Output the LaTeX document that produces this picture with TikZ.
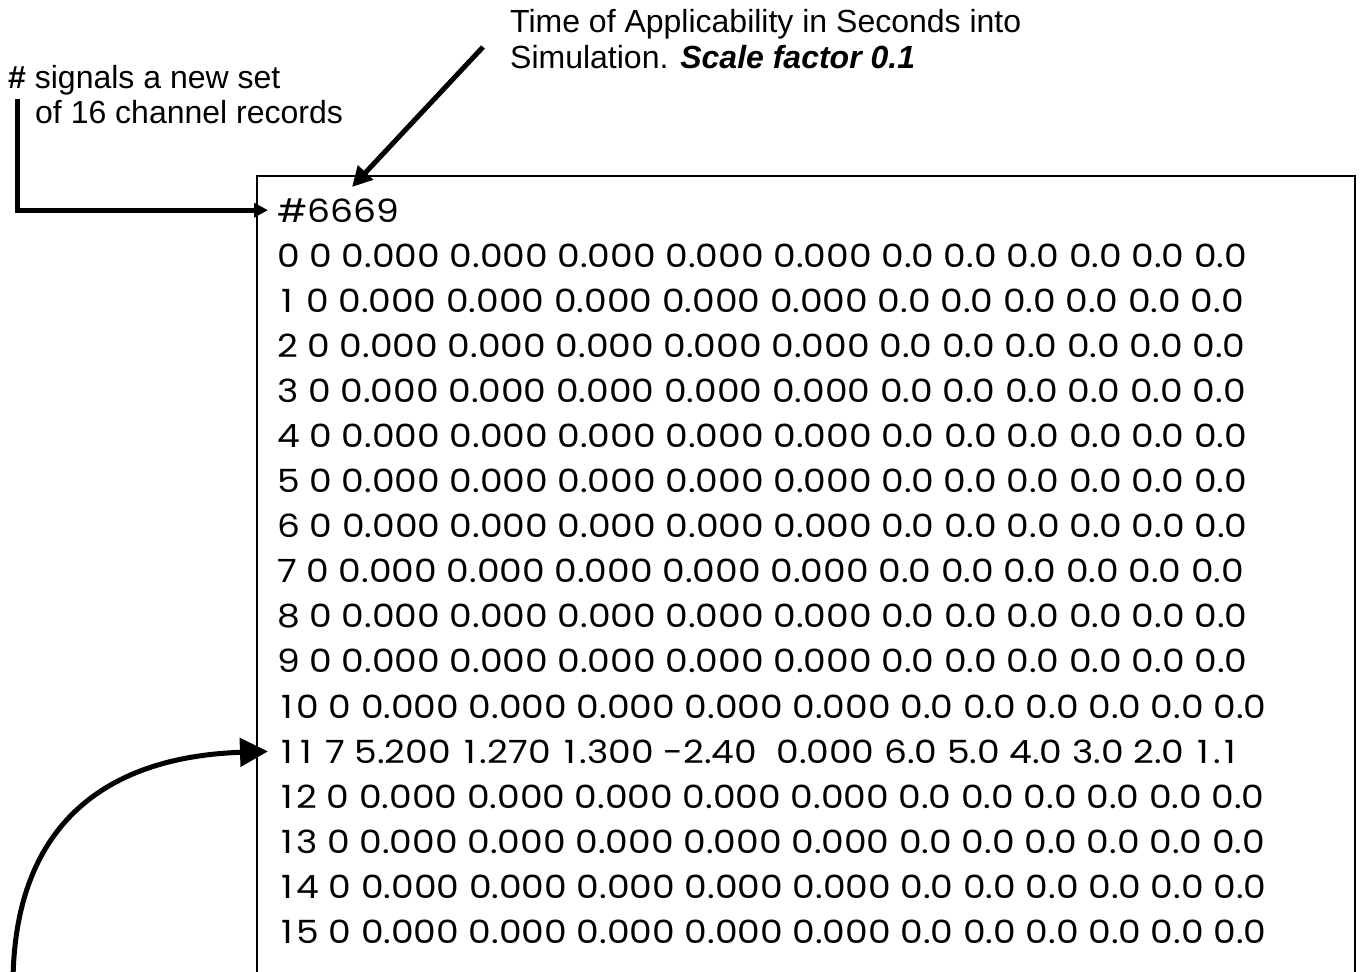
\documentclass[tikz,border=0pt]{standalone}
\usepackage{fontspec}
\setmainfont{Liberation Sans}
\newfontfamily\datafont[Numbers=Monospaced]{Poppins}
\usetikzlibrary{arrows.meta}
\newlength\rowwd
\newlength\onewd
\newcommand\one{\makebox[\onewd][c]{1}}
\begin{document}
% common horizontal stretch of the record lines, and a wider digit one
\settowidth\rowwd{\datafont\fontsize{32}{34}\selectfont 0 0 0.000 0.000 0.000 0.000 0.000 0.0 0.0 0.0 0.0 0.0 0.0}%
\settowidth\onewd{\datafont\fontsize{32}{34}\selectfont 0}%
\setlength\onewd{0.85\onewd}%
\pgfmathsetmacro\sx{970/\rowwd}%
\begin{tikzpicture}[x=1pt,y=-1pt,
  datarow/.style={anchor=base west, inner sep=0pt, font=\datafont\fontsize{32}{34}\selectfont},
  note/.style={anchor=base west, inner sep=0pt, font=\fontsize{32}{34}\selectfont},
  title/.style={anchor=base west, inner sep=0pt, font=\fontsize{32}{36}\selectfont},
  frame/.style={draw, line width=2pt, inner sep=0pt},
  pointer/.style={line width=5pt},
]
\clip (0,0) rectangle (1361,972);
\fill[white] (0,0) rectangle (1361,972);

% record frame (runs past the lower edge)
\node[frame, anchor=north west, minimum width=1098pt, minimum height=840pt] (box) at (256,175) {};

% header and channel records
\node[datarow] (hdr) at (277,222) {\scalebox{\sx}[1]{\#6669}};
\foreach \i/\lab in {0/0, 1/\one, 2/2, 3/3, 4/4, 5/5, 6/6, 7/7, 8/8, 9/9,
                     10/\one0, 12/\one2, 13/\one3, 14/\one4, 15/\one5}{
  \node[datarow] (r\i) at (277,{267+45.1*\i})
    {\scalebox{\sx}[1]{\lab{} 0 0.000 0.000 0.000 0.000 0.000 0.0 0.0 0.0 0.0 0.0 0.0}};
}
\node[datarow] (r11) at (277,{267+45.1*11})
  {\scalebox{\sx}[1]{\one\one{} 7 5.200 \one.270 \one.300 -2.40~ 0.000 6.0 5.0 4.0 3.0 2.0 \one.\one}};

% annotations
\node[note] (n1) at (8,88) {\textbf{\#} signals a new set};
\node[note] (n2) at (35,123) {of 16 channel records};
\node[title] (t1) at (510,32) {Time of Applicability in Seconds into};
\node[title] (t2) at (510,68) {Simulation. \textbf{\textit{Scale factor 0.1}}};

% pointers
\coordinate (a1s) at (17,99);
\draw[pointer, -{Triangle[length=14pt,width=14pt]}] (a1s) |- ([xshift=-9pt]hdr.west);

\coordinate (a2s) at (483,47);
\coordinate (a2e) at (352,187);
\draw[pointer, -{Triangle[length=20pt,width=20pt]}] (a2s) -- (a2e);

\coordinate (a3s) at (13,985);
\draw[pointer, -{Triangle[length=28pt,width=28pt]}] (a3s) .. controls (13,830) and (100,757) .. ([xshift=-9pt]r11.west);
\end{tikzpicture}
\end{document}
